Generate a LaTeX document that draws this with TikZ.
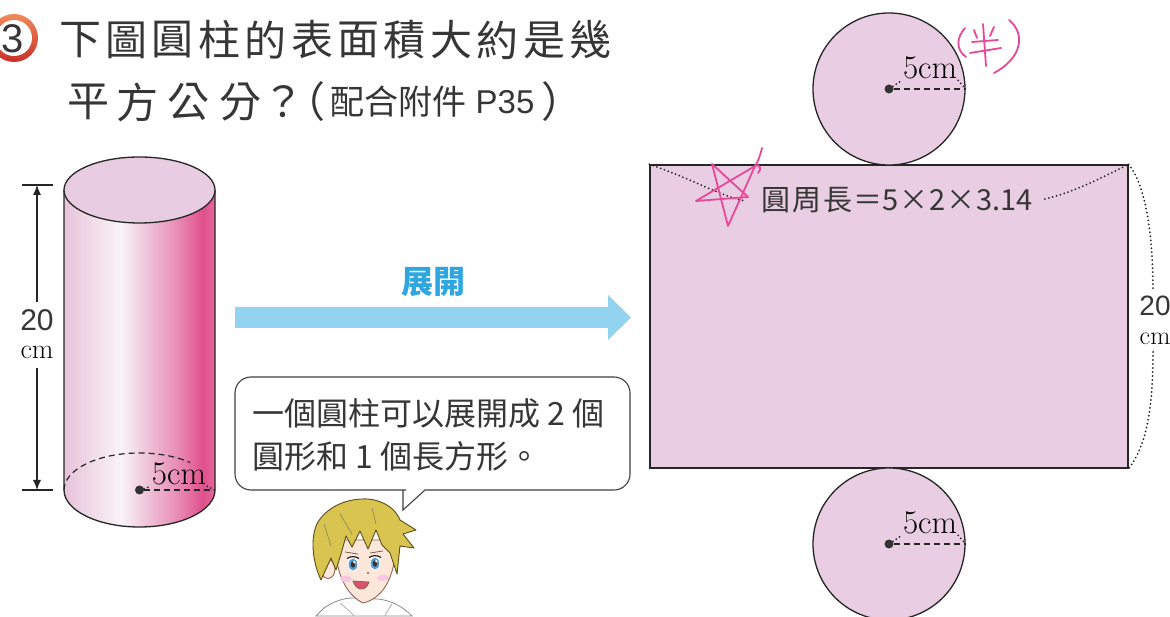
\documentclass[tikz,border=0pt]{standalone}
\usepackage{fontspec}
\newfontfamily\cjk{Noto Sans CJK TC}
\newfontfamily\arialf{Liberation Sans}
\usetikzlibrary{calc,arrows.meta}

\definecolor{ink}{HTML}{363636}
\definecolor{netfill}{HTML}{E9CDE3}
\definecolor{cyltop}{HTML}{E8CCE1}
\definecolor{pen}{HTML}{E8489A}
\definecolor{sky}{HTML}{92D3F0}
\definecolor{skytext}{HTML}{2EA6E0}
\definecolor{ringA}{HTML}{F08A5A}
\definecolor{ringB}{HTML}{C9302A}
\definecolor{hair}{HTML}{D9C450}
\definecolor{hairline}{HTML}{5C4C1C}
\definecolor{skin}{HTML}{FDE7DA}
\definecolor{skinline}{HTML}{8A5A48}
\definecolor{iris}{HTML}{5A9BD0}
\definecolor{mouth}{HTML}{D9546E}
% side of the cylinder: soft lavender, white sheen, deep pink edge
\definecolor{cA}{HTML}{E6C3DA}
\definecolor{cB}{HTML}{EFD8E6}
\definecolor{cC}{HTML}{FAF3F7}
\definecolor{cD}{HTML}{F2D1E1}
\definecolor{cE}{HTML}{E98FB7}
\definecolor{cF}{HTML}{E0508C}
\definecolor{cG}{HTML}{E4689B}
\pgfdeclarehorizontalshading{cylside}{100bp}{color(0bp)=(cA); color(25bp)=(cA); color(33bp)=(cB); color(44bp)=(cC); color(50bp)=(cD); color(62bp)=(cE); color(71bp)=(cF); color(75bp)=(cG); color(100bp)=(cG)}

\tikzset{
  outline/.style={draw=black!85, line width=1.3pt},
  dimline/.style={draw=black!85, line width=1.1pt},
  dotline/.style={draw=black!85, line width=2pt, line cap=round, dash pattern=on 0pt off 4pt},
  dashline/.style={draw=black!85, line width=1.2pt, dash pattern=on 6pt off 4pt},
  centre/.style={circle, fill=black!80, inner sep=0pt, minimum size=9pt},
  penline/.style={draw=pen, line width=1.8pt, line cap=round, line join=round},
  titlechar/.style={text=ink, inner sep=0pt, font=\cjk\fontsize{42pt}{42pt}\selectfont},
  cmlabel/.style={inner sep=1pt, font=\fontsize{33pt}{33pt}\selectfont},
  face/.style={draw=skinline, line width=0.8pt, fill=skin},
}

\begin{document}
\begin{tikzpicture}[x=1pt, y=1pt]
\fill[white] (0,0) rectangle (1170,616);
\useasboundingbox (0,0) rectangle (1170,616);

% ---- question number ----
\shade[top color=ringA, bottom color=ringB] (14,578) circle[radius=24];
\fill[white] (14,578) circle[radius=18];
\node[inner sep=0pt, text=ink, font=\arialf\fontsize{40pt}{40pt}\selectfont] (qnum) at (13,577) {3};

% ---- question text ----
\foreach \c [count=\i from 0] in {下,圖,圓,柱,的,表,面,積,大,約,是,幾}
  \node[titlechar] (ta\i) at (80+46.4*\i,576) {\c};
\foreach \c/\cx [count=\i from 0] in {平/88,方/137,公/188,分/240,？/283}
  \node[titlechar] (tb\i) at (\cx,514) {\c};
\node[titlechar] (tbl) at (304,514) {（};
\node[inner sep=0pt, text=ink, font=\cjk\fontsize{34pt}{34pt}\selectfont] (tbw) at (398,514) {配合附件};
\node[inner sep=0pt, text=ink, font=\arialf\fontsize{33pt}{33pt}\selectfont] (tbp) at (505,514) {P35};
\node[titlechar] (tbr) at (562,514) {）};

% ---- cylinder ----
\shade[shading=cylside] (64,426) -- (64,126) arc[start angle=180, end angle=360, x radius=75.5, y radius=37] -- (215,426) -- cycle;
\draw[outline] (64,426) -- (64,126) arc[start angle=180, end angle=360, x radius=75.5, y radius=37] -- (215,426);
\draw[outline, fill=cyltop] (139.5,426) ellipse[x radius=75.5, y radius=33];
\draw[dashline] (64,126) arc[start angle=180, end angle=48, x radius=75.5, y radius=37];
\node[centre] (cylc) at (139.5,126) {};
\coordinate (cylr) at (215,126);
\draw[dashline] (cylc) -- (cylr);
\node[cmlabel] (cyllab) at (179,142) {5cm};
\draw[dotline] (cylc) -- (cyllab.south west);
\draw[dotline] (cyllab.south east) -- (cylr);

% height of the cylinder
\coordinate (htop) at (37,431);
\coordinate (hbot) at (37,126);
\draw[dimline] (22,431) -- (53,431);
\draw[dimline] (22,126) -- (53,126);
\node[inner sep=0pt, text=ink, font=\arialf\fontsize{30pt}{30pt}\selectfont] (hnum) at (37,296) {20};
\node[inner sep=0pt, font=\fontsize{28pt}{28pt}\selectfont] (hunit) at (37,264) {cm};
\draw[dimline, -{Latex[length=10pt, width=8pt]}] (37,314) -- (htop);
\draw[dimline, -{Latex[length=10pt, width=8pt]}] (37,248) -- (hbot);

% ---- unfolding arrow ----
\fill[sky] (235,288) -- (608,288) -- (608,276) -- (631,298.5) -- (608,321) -- (608,309) -- (235,309) -- cycle;
\node[inner sep=0pt, text=skytext, font=\cjk\bfseries\fontsize{32pt}{32pt}\selectfont] (unfold) at (433,334) {展開};

% ---- speech bubble ----
\draw[draw=black!75, line width=1.1pt, fill=white, rounded corners=16pt]
  (235,183) |- (390,126) [sharp corners] -- (403,126) -- (403,106) -- (425,126) -- (440,126)
  [rounded corners=16pt] -| (630,183) |- (235,239) -- cycle;
\node[anchor=west, inner sep=0pt, text=ink, font=\cjk\fontsize{32pt}{32pt}\selectfont] (say1) at (252,203) {一個圓柱可以展開成 2 個};
\node[anchor=west, inner sep=0pt, text=ink, font=\cjk\fontsize{32pt}{32pt}\selectfont] (say2) at (252,160) {圓形和 1 個長方形。};

% ---- boy ----
\draw[draw=black!45, line width=0.8pt, fill=white] (316,0) -- (324,8) .. controls (334,15) and (345,18) .. (352,18) -- (378,17) .. controls (394,15) and (404,8) .. (412,0) -- cycle;
\draw[black!35, line width=0.7pt] (340,13) .. controls (348,6) and (352,3) .. (354,0);
\draw[black!35, line width=0.7pt] (392,12) .. controls (388,6) and (386,3) .. (385,0);
\draw[face] (328,47) ellipse[x radius=7, y radius=9.5];
\draw[face] (336,76) .. controls (334,42) and (348,20) .. (363,13) .. controls (381,17) and (396,36) .. (396,76) -- cycle;
\fill[pen!30] (346,37) ellipse[x radius=6, y radius=3];
\fill[pen!30] (383,38) ellipse[x radius=6, y radius=3];
\draw[draw=hairline, line width=0.9pt, fill=hair, line join=round]
  (321,36) .. controls (312,55) and (310,80) .. (318,94) .. controls (328,110) and (348,118) .. (368,117)
  .. controls (386,115) and (396,106) .. (400,96)
  -- (416,86) -- (403,82) -- (414,68) -- (400,70) -- (397,42) -- (390,63) -- (382,71)
  -- (376,86) -- (368,67) -- (360,85) -- (352,69) -- (346,80) -- (341,62) -- (336,46)
  -- (331,58) -- cycle;
\draw[hairline!70, line width=0.6pt] (340,102) -- (352,82);
\draw[hairline!70, line width=0.6pt] (372,108) -- (376,92);
\draw[hairline!70, line width=0.6pt] (324,92) -- (331,70);
% eyes
\foreach \ex/\ey [count=\k] in {353/52, 375/53} {
  \fill[white] (\ex,\ey) ellipse[x radius=5.5, y radius=7];
  \fill[iris] (\ex,\ey-0.5) ellipse[x radius=4.3, y radius=6];
  \fill[black!80] (\ex,\ey-0.5) ellipse[x radius=2.2, y radius=3.2];
  \fill[white] (\ex+1.3,\ey+1.8) circle[radius=1.3];
  \draw[black!85, line width=1.2pt] (\ex-6,\ey+5.5) .. controls (\ex-2,\ey+8) and (\ex+2,\ey+8) .. (\ex+6,\ey+5.5);
}
\draw[skinline, line width=0.8pt] (345,64) -- (358,62);
\draw[skinline, line width=0.8pt] (370,63) -- (383,65);
\fill[skinline] (368,43) circle[radius=1.1];
\draw[draw=skinline, line width=0.7pt, fill=mouth] (353,35) .. controls (356,25) and (366,24) .. (369,34) -- cycle;

% ---- net: rectangle and two circles ----
\node[draw=black!85, line width=1.3pt, fill=netfill, rectangle, inner sep=0pt, minimum width=478pt, minimum height=303pt] (net) at (889,299.5) {};
\node[draw=black!85, line width=1.3pt, fill=netfill, circle, inner sep=0pt, minimum size=152pt] (topc) at (889,527) {};
\node[draw=black!85, line width=1.3pt, fill=netfill, circle, inner sep=0pt, minimum size=152pt] (botc) at (889,72) {};

% circumference across the top of the rectangle
\node[inner sep=0pt, text=ink, font=\cjk\fontsize{29pt}{29pt}\selectfont] (circum) at (897,416) {圓\kern2pt 周\kern2pt 長\kern1pt ＝5\kern1pt ×\kern1pt 2\kern1pt ×\kern1pt 3.14};
\draw[dotline] (net.north west) .. controls (690,438) and (720,420) .. ($(circum.west)+(-16,-1)$);
\draw[dotline] ($(circum.east)+(12,1)$) .. controls (1075,424) and (1105,440) .. (net.north east);

% height of the rectangle
\node[inner sep=0pt, text=ink, font=\arialf\fontsize{28pt}{28pt}\selectfont] (rnum) at (1155,310) {20};
\node[inner sep=0pt, font=\fontsize{26pt}{26pt}\selectfont] (runit) at (1155,277) {cm};
\draw[dotline] (net.north east) .. controls (1146,430) and (1153,380) .. (1153,326);
\draw[dotline] (1153,264) .. controls (1153,205) and (1146,170) .. (net.south east);

% radius of the top circle
\node[centre] (tcc) at (topc.center) {};
\coordinate (tcr) at (topc.east);
\draw[dashline] (tcc) -- (tcr);
\node[cmlabel] (tlab) at (930,548) {5cm};
\draw[dotline] (tcc) -- (tlab.south west);
\draw[dotline] (tlab.south east) -- (tcr);

% radius of the bottom circle
\node[centre] (bcc) at (botc.center) {};
\coordinate (bcr) at (botc.east);
\draw[dashline] (bcc) -- (bcr);
\node[cmlabel] (blab) at (930,93) {5cm};
\draw[dotline] (bcc) -- (blab.south west);
\draw[dotline] (blab.south east) -- (bcr);

% ---- pen marks ----
\draw[penline] (762,468) .. controls (760,460) and (758,454) .. (755,450) -- (728,390) -- (712,452) -- (748,419) -- (696,415) -- (755,450) .. controls (760,453) and (762,446) .. (758,443);
\draw[penline] (965,588) .. controls (956,578) and (956,566) .. (966,559);
\draw[penline] (983,592) -- (986,550);
\draw[penline] (974,586) -- (977,578);
\draw[penline] (994,589) -- (990,580);
\draw[penline] (972,574) -- (998,576);
\draw[penline] (970,563) -- (1001,568);
\draw[penline] (1009,596) .. controls (1026,582) and (1022,558) .. (994,543);
\end{tikzpicture}
\end{document}
